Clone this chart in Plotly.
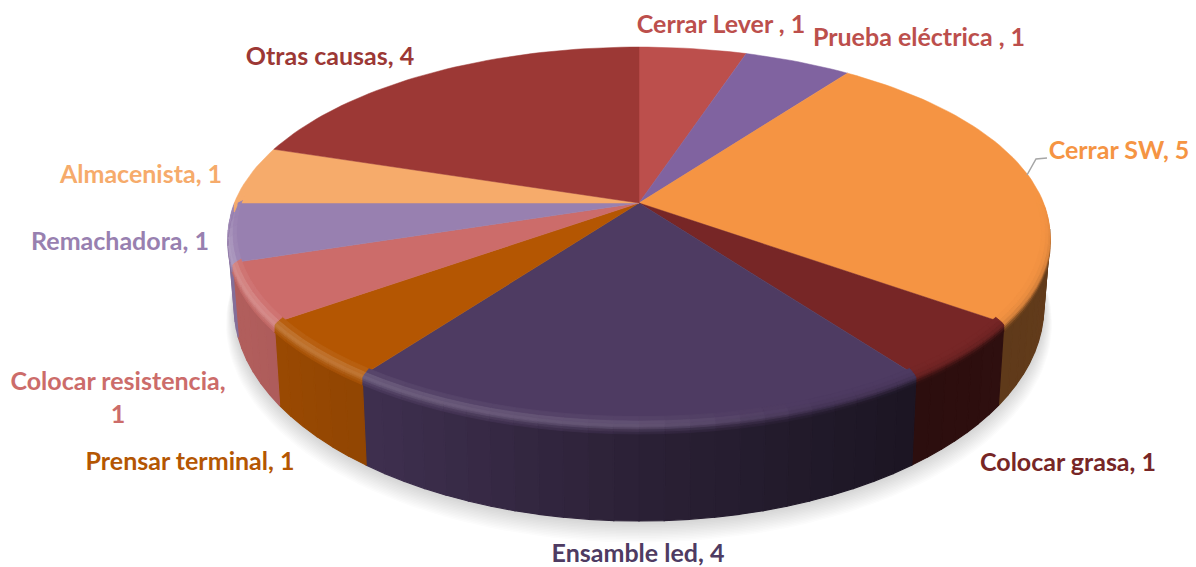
import numpy as np
import plotly.graph_objects as go

# ---- data ----
categories = ["Cerrar Lever ", "Prueba eléctrica ", "Cerrar SW", "Colocar grasa", "Ensamble led",
              "Prensar terminal", "Colocar resistencia", "Remachadora", "Almacenista", "Otras causas"]
values = [1, 1, 5, 1, 4, 1, 1, 1, 1, 4]
colors = ["#BC4F4C", "#8063A0", "#F59443", "#772626", "#4E3B62",
          "#B45602", "#CC6C6A", "#9880B0", "#F6AB6B", "#9C3835"]
text_colors = ["#BC4F4C", "#BC4F4C", "#F59443", "#772626", "#4E3B62",
               "#B45602", "#CC6C6A", "#9880B0", "#F6AB6B", "#9C3835"]
# ---- layout of labels (pixel positions on the 1196x567 canvas) ----
label_x = [721, 919, 1119, 1068, 638, 190, 118, 120, 141, 330]
label_y = [27, 40, 153, 465, 556, 464, 400, 244, 177, 59]
FONT = "Lato"
FONT_SIZE = 25

# ---- projection of the tilted disc ----
CX, TOP_CY, A, B, K = 639, 203, 404.7, 183.2, 0.1746
BOT_CY, BOT_A, BOT_B = 269.5, 398.6, 207.6


def top(t, r=1.0, dy=0.0):
    t = np.radians(t)
    u, v = r * np.sin(t), r * np.cos(t)
    w = 1 + K * v
    return CX + A * u / w, TOP_CY - B * v / w + dy


def bottom(t, r=1.0, dy=0.0):
    t = np.radians(t)
    u, v = r * np.sin(t), r * np.cos(t)
    w = 1 + K * v
    return CX + BOT_A * u / w, BOT_CY - BOT_B * v / w + dy


def rgb(c):
    c = c.lstrip("#")
    return np.array([int(c[i:i + 2], 16) for i in (0, 2, 4)], float)


def css(a):
    return "rgb(%d,%d,%d)" % tuple(np.clip(np.round(a), 0, 255))


def wall_factor(x):
    return np.interp(x, [240, 370, 640, 900, 1050], [.87, .80, .55, .36, .40])


def arc(a, b, step=2.0):
    n = max(int(np.ceil((b - a) / step)), 1)
    return np.linspace(a, b, n + 1)


fig = go.Figure()


def poly(xs, ys, color, lw=1.2):
    fig.add_trace(go.Scatter(x=list(xs), y=list(ys), mode="lines", fill="toself", fillcolor=color,
                             line=dict(color=color, width=lw), hoverinfo="skip", showlegend=False))


# soft shadow
tt = np.linspace(0, 360, 181)
for i in range(14, 0, -1):
    sx, sy = bottom(tt, r=1 + .0014 * i, dy=1.1 * i)
    fig.add_trace(go.Scatter(x=sx, y=sy, mode="lines", fill="toself", line=dict(width=0),
                             fillcolor="rgba(90,90,90,0.016)", hoverinfo="skip", showlegend=False))

edges = np.cumsum([0] + values) / sum(values) * 360
VIS_A, VIS_B = 98, 258

# side walls
for i in range(len(values)):
    a, b = max(edges[i], VIS_A), min(edges[i + 1], VIS_B)
    if a >= b:
        continue
    g = arc(a, b, 3.0)
    for t0, t1 in zip(g[:-1], g[1:]):
        seg = np.linspace(t0, t1, 4)
        tx, ty = top(seg)
        bx, by = bottom(seg)
        f = wall_factor(tx.mean())
        poly(np.r_[tx, bx[::-1], tx[0]], np.r_[ty, by[::-1], ty[0]], css(rgb(colors[i]) * f))

# top faces
for i in range(len(values)):
    t = arc(edges[i], edges[i + 1], 1.5)
    ex, ey = top(t)
    poly(np.r_[CX, ex, CX], np.r_[TOP_CY, ey, TOP_CY], colors[i], lw=0.5)

# bevel: (r, dy, highlight weight, fade-to-wall weight)
PROFILE = [(1.0, 9.0, .05, 1.0), (1.0, 6.5, .30, .85), (1.0, 4.0, .70, .55),
           (1.0, 2.0, 1.0, .25), (.995, 0.0, 1.0, .10), (.988, -1.5, .50, .04), (.98, -3.0, .0, .0)]
for i in range(len(values)):
    a, b = max(edges[i], 88), min(edges[i + 1], 272)
    if a >= b:
        continue
    g = arc(a, b, 3.0)
    base = rgb(colors[i])
    for t0, t1 in zip(g[:-1], g[1:]):
        seg = np.linspace(t0, t1, 4)
        mid = (t0 + t1) / 2
        mx = top(mid)[0]
        fade_in = np.clip((mid - 88) / 22, 0, 1) * np.clip((272 - mid) / 14, 0, 1)
        hl = np.interp(mx, [230, 400, 640, 820], [.24, .20, .16, 0])
        dk = np.interp(mx, [230, 640, 860], [.45, .8, 1.0])
        wall = base * wall_factor(mx)
        for (r0, d0, h0, w0), (r1, d1, h1, w1) in zip(PROFILE[:-1], PROFILE[1:]):
            x0, y0 = top(seg, r0, d0)
            x1, y1 = top(seg, r1, d1)
            col = base + (255 - base) * hl * (h0 + h1) / 2
            wgt = (w0 + w1) / 2 * dk
            col = col * (1 - wgt) + wall * wgt
            col = base * (1 - fade_in) + col * fade_in
            poly(np.r_[x0, x1[::-1], x0[0]], np.r_[y0, y1[::-1], y0[0]], css(col), lw=0.8)

# leader line of "Cerrar SW"
fig.add_trace(go.Scatter(x=[1027, 1036, 1047], y=[175, 159, 158], mode="lines",
                         line=dict(color="#A6A6A6", width=1.5), hoverinfo="skip", showlegend=False))

# labels
labels = []
for c, v in zip(categories, values):
    if c == "Colocar resistencia":
        labels.append(f"{c},<br>{v}")
    else:
        labels.append(f"{c}, {v}")
for i, lab in enumerate(labels):
    fig.add_trace(go.Scatter(x=[label_x[i]], y=[label_y[i]], mode="text", text=[lab],
                             textposition="middle center",
                             textfont=dict(family=FONT, size=FONT_SIZE, color=text_colors[i], weight=700),
                             hoverinfo="skip", showlegend=False))

fig.update_layout(width=1196, height=567, margin=dict(l=0, r=0, t=0, b=0),
                  paper_bgcolor="white", plot_bgcolor="white", showlegend=False,
                  xaxis=dict(range=[0, 1196], visible=False, fixedrange=True),
                  yaxis=dict(range=[567, 0], visible=False, fixedrange=True))
fig.write_html("out.html", config=dict(displayModeBar=False),
               post_script="document.body.style.margin='0';document.documentElement.style.overflow='hidden';")
